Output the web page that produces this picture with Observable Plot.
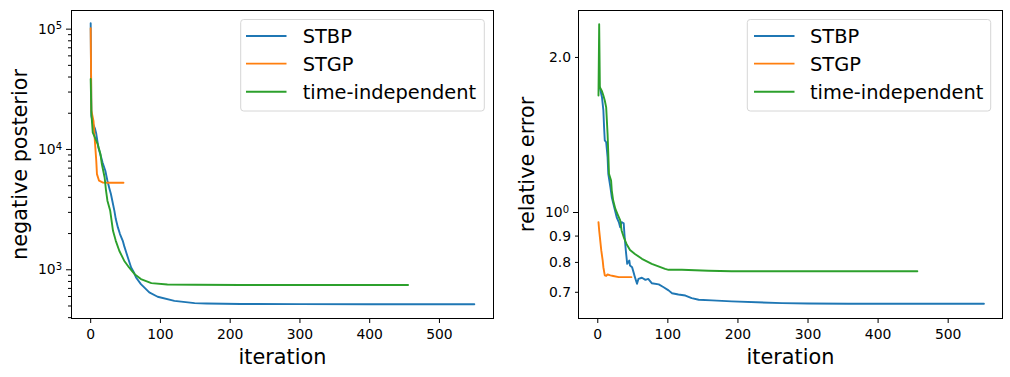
<!DOCTYPE html>
<html>
<head>
<meta charset="utf-8">
<script src="https://cdn.jsdelivr.net/npm/d3@7"></script>
<script src="https://cdn.jsdelivr.net/npm/@observablehq/plot@0.6"></script>
<style>
  html, body { margin: 0; padding: 0; background: white; }
  #wrap { display: flex; width: 1010px; height: 377px; }
  #wrap svg { display: block; }
</style>
</head>
<body>
<div id="wrap"></div>
<script>
// ---------- data ----------
const seriesNames = ["STBP", "STGP", "time-independent"];
const seriesColors = ["#1f77b4", "#ff7f0e", "#2ca02c"];
const xTicks = [0, 100, 200, 300, 400, 500];

// left panel: negative posterior
const stbpPostIter = [0, 1, 3, 6, 8, 11, 15, 17, 21, 24, 27, 29, 31, 34, 36, 39, 42, 46, 48, 51, 54, 58, 62, 65, 72, 84, 96, 120, 149, 166, 215, 300, 400, 550];
const stbpPostVal  = [112000, 19000, 16500, 15000, 13500, 10400, 8600, 7800, 6650, 5500, 4700, 4260, 3750, 3090, 2640, 2250, 1980, 1740, 1580, 1390, 1230, 1045, 950, 863, 760, 648, 597, 552, 528, 525, 520, 518, 517, 517];
const stgpPostIter = [0, 1, 4, 6, 8, 9, 12, 17, 25, 47];
const stgpPostVal  = [102000, 21000, 17300, 11800, 8050, 6240, 5500, 5320, 5290, 5290];
const tiPostIter = [0, 1, 3, 4, 10, 14, 16, 20, 22, 24, 28, 32, 36, 41, 48, 55, 63, 72, 87, 110, 150, 215, 300, 455];
const tiPostVal  = [38500, 20000, 13800, 13400, 11100, 9160, 7570, 5850, 4540, 3750, 3090, 2110, 1740, 1440, 1190, 1045, 920, 837, 775, 755, 750, 748, 747, 747];
const postMajorTicks = [1e3, 1e4, 1e5];
const postMajorExps = ["3", "4", "5"];
const postMinorTicks = [400, 500, 600, 700, 800, 900, 2000, 3000, 4000, 5000, 6000, 7000, 8000, 9000, 20000, 30000, 40000, 50000, 60000, 70000, 80000, 90000];

// right panel: relative error
const stbpErrIter = [2, 3, 6, 8, 9, 10, 12, 14, 15, 18, 20, 24, 27, 30, 32, 34, 37, 38, 40, 42, 45, 46, 49, 51, 53, 56, 58, 63, 68, 72, 77, 87, 94, 101, 106, 115, 125, 134, 144, 163, 191, 263, 300, 358, 450, 551];
const stbpErrVal  = [1.76, 1.746, 1.674, 1.578, 1.464, 1.38, 1.369, 1.281, 1.189, 1.12, 1.071, 1.017, 0.979, 0.958, 0.936, 0.958, 0.953, 0.909, 0.844, 0.795, 0.807, 0.789, 0.783, 0.766, 0.749, 0.727, 0.743, 0.747, 0.74, 0.743, 0.729, 0.725, 0.716, 0.706, 0.697, 0.693, 0.69, 0.682, 0.677, 0.675, 0.672, 0.667, 0.666, 0.665, 0.665, 0.665];
const stgpErrIter = [1, 2, 5, 7, 8, 10, 12, 14, 18, 22, 30, 48];
const stgpErrVal  = [0.958, 0.923, 0.844, 0.807, 0.783, 0.755, 0.753, 0.758, 0.755, 0.753, 0.749, 0.749];
const tiErrIter = [1, 2, 3, 6, 8, 10, 12, 14, 15, 16, 19, 20, 22, 25, 28, 32, 34, 37, 41, 46, 53, 63, 77, 96, 101, 120, 158, 191, 300, 456];
const tiErrVal  = [1.687, 2.32, 1.75, 1.72, 1.687, 1.65, 1.6, 1.42, 1.3, 1.189, 1.154, 1.103, 1.055, 1.017, 0.994, 0.965, 0.923, 0.896, 0.869, 0.846, 0.831, 0.813, 0.795, 0.777, 0.774, 0.774, 0.771, 0.769, 0.769, 0.769];
const errMajorTicks = [1];
const errMajorExps = ["0"];
const errMinorTicks = [0.7, 0.8, 0.9, 2];
const errMinorLabels = ["0.7", "0.8", "0.9", "2.0"];

// ---------- build ----------
function zipSeries(iters, vals) { return iters.map((it, k) => ({it, v: vals[k]})); }

function makePanel(opts) {
  const lines = opts.series.map((s, k) =>
    Plot.line(s, {x: "it", y: "v", stroke: seriesColors[k], strokeWidth: 1.9}));
  const plot = Plot.plot({
    width: 505, height: 377,
    marginTop: 10, marginBottom: 59,
    marginLeft: opts.marginLeft, marginRight: opts.marginRight,
    style: {fontFamily: "'DejaVu Sans', sans-serif", fontSize: "13.9px", color: "black", background: "white", overflow: "visible"},
    x: {domain: [-27.5, 577.5]},
    y: {type: "log", domain: opts.yDomain},
    marks: [
      ...lines,
      Plot.frame({stroke: "black", strokeWidth: 1}),
      Plot.axisX({ticks: xTicks, tickSize: 5, tickPadding: 5.5, tickFormat: d => String(d), label: null}),
      Plot.axisY({ticks: opts.majorTicks, tickSize: 5, tickPadding: 4.5,
        tickFormat: d => "10^" + opts.majorExps[opts.majorTicks.indexOf(d)], label: null}),
      Plot.axisY({ticks: opts.minorTicks, tickSize: 3, tickPadding: 4.5,
        tickFormat: d => opts.minorLabels ? opts.minorLabels[opts.minorTicks.indexOf(d)] : "", label: null}),
      Plot.text([opts.ylabel], {text: d => d, frameAnchor: "left", textAnchor: "middle", rotate: -90, dx: -44.8, lineAnchor: "bottom", fontSize: 20.8, fill: "black"}),
      Plot.text(["iteration"], {text: d => d, frameAnchor: "bottom", textAnchor: "middle", dy: 45, lineAnchor: "bottom", fontSize: 20.8, fill: "black"})
    ]
  });
  const svg = d3.select(plot);
  // mathtext-like superscripts for the power-of-ten labels
  svg.selectAll("text").each(function () {
    const t = d3.select(this);
    const s = this.textContent;
    const m = /^10\^(\d+)$/.exec(s);
    if (m) {
      const tsp = t.select("tspan").empty() ? t : t.select("tspan");
      tsp.text("10");
      tsp.append("tspan").attr("dy", "-0.42em").attr("font-size", "0.72em").text(m[1]);
    }
  });
  // legend inside the axes (upper right)
  const g = svg.append("g").attr("font-family", "'DejaVu Sans', sans-serif").attr("font-size", 19.4).attr("text-anchor", "start");
  const L = opts.legend;
  g.append("rect").attr("x", L.x0).attr("y", 19.5).attr("width", L.x1 - L.x0).attr("height", 91.5)
    .attr("rx", 3).attr("fill", "white").attr("stroke", "#d6d6d6").attr("stroke-width", 1);
  const rows = [36, 63.6, 91.8];
  seriesNames.forEach((name, k) => {
    g.append("line").attr("x1", L.lx0).attr("x2", L.lx0 + 40.5).attr("y1", rows[k]).attr("y2", rows[k])
      .attr("stroke", seriesColors[k]).attr("stroke-width", 1.9);
    g.append("text").attr("x", L.tx).attr("y", rows[k]).attr("dy", "0.36em").attr("text-anchor", "start").attr("fill", "black").text(name);
  });
  return plot;
}

const wrap = document.getElementById("wrap");
wrap.appendChild(makePanel({
  series: [zipSeries(stbpPostIter, stbpPostVal), zipSeries(stgpPostIter, stgpPostVal), zipSeries(tiPostIter, tiPostVal)],
  yDomain: [393.6, 142900],
  majorTicks: postMajorTicks, majorExps: postMajorExps,
  minorTicks: postMinorTicks, minorLabels: null,
  ylabel: "negative posterior",
  marginLeft: 71, marginRight: 12,
  legend: {x0: 240.7, x1: 484.3, lx0: 246, tx: 302.7}
}));
wrap.appendChild(makePanel({
  series: [zipSeries(stbpErrIter, stbpErrVal), zipSeries(stgpErrIter, stgpErrVal), zipSeries(tiErrIter, tiErrVal)],
  yDomain: [0.6226, 2.467],
  majorTicks: errMajorTicks, majorExps: errMajorExps,
  minorTicks: errMinorTicks, minorLabels: errMinorLabels,
  ylabel: "relative error",
  marginLeft: 73, marginRight: 8,
  legend: {x0: 242.3, x1: 485.7, lx0: 249, tx: 305}
}));
</script>
</body>
</html>
